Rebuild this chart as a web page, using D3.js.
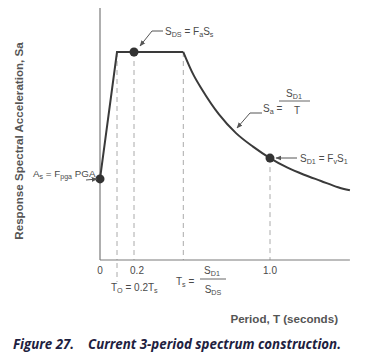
<!DOCTYPE html>
<html><head><meta charset="utf-8">
<script src="https://cdn.jsdelivr.net/npm/d3@7"></script>
<style>
body{margin:0;background:#fff;}
svg text{font-family:"Liberation Sans",Arial,sans-serif;}
</style></head>
<body><svg id="c" width="365" height="360"></svg>
<script>
// Data (schematic values, SDS normalized to 1)
const SDS = 1.0, SD1 = 0.49, AS = 0.39;
const T0 = 0.1, TS = 0.49;
const rampPeriods = [0, T0, TS];
const rampSa = [AS, SDS, SDS];
const curvePeriods = [0.49, 0.55, 0.6, 0.7, 0.8, 0.9, 1.0, 1.1, 1.2, 1.3, 1.4, 1.47];
const curveSa = [1.0, 0.89, 0.82, 0.70, 0.61, 0.545, 0.49, 0.445, 0.41, 0.38, 0.35, 0.335];
const xTickVals = [0, 0.2, 1.0];
const xTickLabels = ["0", "0.2", "1.0"];
const dashPeriods = [T0, 0.2, TS, 1.0];
const dashTops = [SDS, SDS, SDS, SD1];
const points = [[0, AS], [0.2, SDS], [1.0, SD1]];

const svg = d3.select("#c");
const x = d3.scaleLinear().domain([0, 1.0]).range([100, 270]);
const y = d3.scaleLinear().domain([0, 1.0]).range([260, 52]);
const ink = "#3a3a3a", axc = "#7a7a7a", txt = "#4a4a4a";

svg.append("defs").append("marker").attr("id","ar").attr("viewBox","0 0 10 10")
  .attr("refX",9).attr("refY",5).attr("markerWidth",6).attr("markerHeight",6).attr("orient","auto")
  .append("path").attr("d","M0,1L10,5L0,9z").attr("fill","#555");

// dashed verticals
dashPeriods.forEach((p,i)=>{
  svg.append("line").attr("x1",x(p)).attr("x2",x(p)).attr("y1",y(dashTops[i])).attr("y2",y(0))
    .attr("stroke","#aaa").attr("stroke-width",1).attr("stroke-dasharray","5,4");
});
svg.append("line").attr("x1",x(T0)).attr("x2",x(T0)).attr("y1",y(0)+3).attr("y2",y(0)+22)
  .attr("stroke","#aaa").attr("stroke-width",1).attr("stroke-dasharray","5,4");

// axes
svg.append("line").attr("x1",100).attr("x2",100).attr("y1",8).attr("y2",y(0)).attr("stroke",axc).attr("stroke-width",1.2);
svg.append("line").attr("x1",100).attr("x2",x(1.47)).attr("y1",y(0)).attr("y2",y(0)).attr("stroke",axc).attr("stroke-width",1.2);

// tick labels
xTickVals.forEach((v,i)=>{
  svg.append("text").attr("x",x(v)+(i==1?3:0)).attr("y",274).attr("text-anchor","middle")
    .attr("font-size",10).attr("fill",txt).text(xTickLabels[i]);
});

// spectrum
const line = d3.line().x(d=>x(d[0])).y(d=>y(d[1]));
svg.append("path").attr("d", line(rampPeriods.map((p,i)=>[p,rampSa[i]])))
  .attr("fill","none").attr("stroke",ink).attr("stroke-width",2);
svg.append("path").attr("d", d3.line().x(d=>x(d[0])).y(d=>y(d[1])).curve(d3.curveMonotoneX)(curvePeriods.map((p,i)=>[p,curveSa[i]])))
  .attr("fill","none").attr("stroke",ink).attr("stroke-width",2);

points.forEach(d=>{
  svg.append("circle").attr("cx",x(d[0])).attr("cy",y(d[1])).attr("r",4.5).attr("fill","#333");
});

const sub = (t, parts, size) => {
  parts.forEach(([s, isSub])=>{
    t.append("tspan").attr("font-size", isSub ? size*0.72 : size)
      .attr("baseline-shift", isSub ? "-25%" : null).text(s);
  });
};
// As label
let t = svg.append("text").attr("x",33).attr("y",177).attr("fill",txt);
sub(t, [["A",0],["s",1],[" = F",0],["pga",1],[" PGA",0]], 9.8);
svg.append("line").attr("x1",86).attr("y1",180).attr("x2",97).attr("y2",179)
  .attr("stroke","#555").attr("stroke-width",1).attr("marker-end","url(#ar)");

// SDS label
t = svg.append("text").attr("x",165).attr("y",35).attr("fill",txt);
sub(t, [["S",0],["DS",1],[" = F",0],["a",1],["S",0],["s",1]], 10);
svg.append("path").attr("d","M163,31L152,31L140,46").attr("fill","none")
  .attr("stroke","#555").attr("stroke-width",1).attr("marker-end","url(#ar)");

// Sa = SD1/T
t = svg.append("text").attr("x",263).attr("y",112).attr("fill",txt);
sub(t, [["S",0],["a",1],[" =",0]], 10);
t = svg.append("text").attr("x",294).attr("y",97).attr("text-anchor","middle").attr("fill",txt);
sub(t, [["S",0],["D1",1]], 10);
svg.append("line").attr("x1",279).attr("x2",310).attr("y1",101).attr("y2",101).attr("stroke","#666");
svg.append("text").attr("x",297).attr("y",114).attr("text-anchor","middle").attr("font-size",10).attr("fill",txt).text("T");
svg.append("path").attr("d","M262,113L250,113L237,128").attr("fill","none")
  .attr("stroke","#555").attr("stroke-width",1).attr("marker-end","url(#ar)");

// SD1 = Fv S1
t = svg.append("text").attr("x",300).attr("y",162).attr("fill",txt);
sub(t, [["S",0],["D1",1],[" = F",0],["v",1],["S",0],["1",1]], 10);
svg.append("line").attr("x1",297).attr("y1",158).attr("x2",276).attr("y2",158)
  .attr("stroke","#555").attr("stroke-width",1).attr("marker-end","url(#ar)");

// T0 label
t = svg.append("text").attr("x",111).attr("y",291).attr("fill",txt);
sub(t, [["T",0],["O",1],[" = 0.2T",0],["s",1]], 10);

// Ts label
t = svg.append("text").attr("x",176).attr("y",285).attr("fill",txt);
sub(t, [["T",0],["s",1],[" =",0]], 10);
t = svg.append("text").attr("x",212).attr("y",274).attr("text-anchor","middle").attr("fill",txt);
sub(t, [["S",0],["D1",1]], 10);
svg.append("line").attr("x1",200).attr("x2",226).attr("y1",279).attr("y2",279).attr("stroke","#666");
t = svg.append("text").attr("x",213).attr("y",293).attr("text-anchor","middle").attr("fill",txt);
sub(t, [["S",0],["DS",1]], 10);

// axis titles
svg.append("text").attr("transform","translate(23,141) rotate(-90)").attr("text-anchor","middle")
  .attr("font-size",11.6).attr("font-weight","bold").attr("fill","#555")
  .text("Response Spectral Acceleration, Sa");
svg.append("text").attr("x",338).attr("y",323).attr("text-anchor","end")
  .attr("font-size",11.6).attr("font-weight","bold").attr("fill","#555")
  .text("Period, T (seconds)");

// caption
const cap = svg.append("text").attr("x",13).attr("y",349).attr("font-size",13.3)
  .attr("font-weight","bold").attr("font-style","italic").attr("fill","#1e2140")
  .style("font-family","'Open Sans',sans-serif");
cap.append("tspan").text("Figure 27.");
cap.append("tspan").attr("x",88).text("Current 3-period spectrum construction.");
</script></body></html>
